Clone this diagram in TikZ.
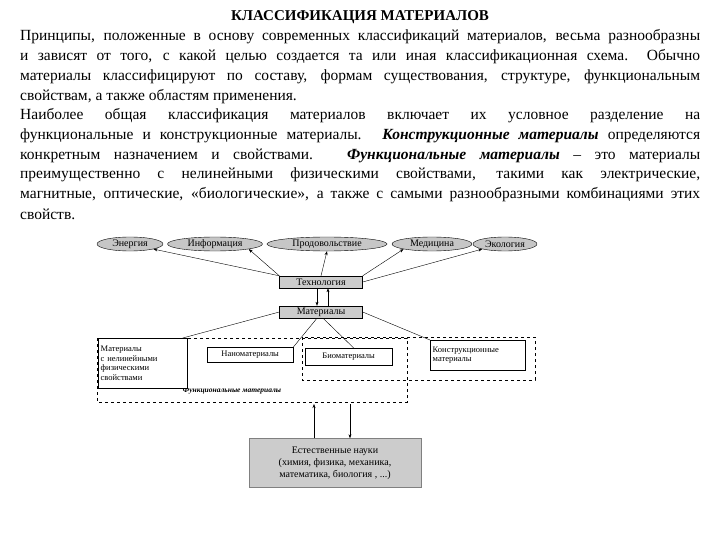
\documentclass[tikz,border=0pt]{standalone}
\usepackage{fontspec}
\setmainfont{Liberation Serif}
\usetikzlibrary{shapes.geometric,arrows.meta}
\begin{document}
\begin{tikzpicture}[x=1pt,y=-1pt,
  ell/.style={draw,ellipse,fill=gray!45,inner sep=0pt,font=\fontsize{10}{11}\selectfont},
  gbox/.style={draw,fill=gray!40,inner sep=0pt,font=\fontsize{10}{11}\selectfont},
  wbox/.style={draw,fill=white,inner sep=2pt,font=\fontsize{8.5}{9.5}\selectfont,align=left},
  dbox/.style={draw,dashed,thin},
  arr/.style={-{Stealth[length=4pt,width=3pt]},thin},
  ln/.style={thin},
  txt/.style={anchor=west,inner sep=0pt,font=\fontsize{15.5}{17}\selectfont}]
\useasboundingbox (0,0) rectangle (720,540);
\node[font=\bfseries\fontsize{15}{16}\selectfont] (title) at (360,17) {КЛАССИФИКАЦИЯ МАТЕРИАЛОВ};
\node[txt] (l1) at (20,37) {\makebox[680pt][s]{Принципы, положенные в основу современных классификаций материалов, весьма разнообразны}};
\node[txt] (l2) at (20,57) {\makebox[680pt][s]{и зависят от того, с какой целью создается та или иная классификационная схема.\ \ Обычно}};
\node[txt] (l3) at (20,77) {\makebox[680pt][s]{материалы классифицируют по составу, формам существования, структуре, функциональным}};
\node[txt] (l4) at (20,97) {свойствам, а также областям применения.};
\node[txt] (l5) at (20,116) {\makebox[680pt][s]{Наиболее общая классификация материалов включает их условное разделение на}};
\node[txt] (l6) at (20,136) {\makebox[680pt][s]{функциональные и конструкционные материалы. \textbf{\textit{Конструкционные материалы}} определяются}};
\node[txt] (l7) at (20,156) {\makebox[680pt][s]{конкретным назначением и свойствами. \textbf{\textit{Функциональные материалы}} – это материалы}};
\node[txt] (l8) at (20,175) {\makebox[680pt][s]{преимущественно с нелинейными физическими свойствами, такими как электрические,}};
\node[txt] (l9) at (20,195) {\makebox[680pt][s]{магнитные, оптические, «биологические», а также с самыми разнообразными комбинациями этих}};
\node[txt] (l10) at (20,214) {свойств.};

% diagram
\draw[dbox] (97,338) rectangle (407,402);
\draw[dbox] (302,337) rectangle (535,380);
\node[font=\bfseries\itshape\fontsize{7.5}{8}\selectfont] (fm) at (232,391) {Функциональные материалы};

\node[ell,minimum width=66pt,minimum height=14pt] (e1) at (130,244) {Энергия};
\node[ell,minimum width=95pt,minimum height=14pt] (e2) at (215,244) {Информация};
\node[ell,minimum width=120pt,minimum height=14pt] (e3) at (327,244) {Продовольствие};
\node[ell,minimum width=80pt,minimum height=14pt] (e4) at (432,244) {Медицина};
\node[ell,minimum width=64pt,minimum height=14pt] (e5) at (505,244) {Экология};

\node[gbox,minimum width=83pt,minimum height=12pt] (tech) at (321,282) {Технология};
\node[gbox,minimum width=83pt,minimum height=12pt] (mat) at (321,312) {Материалы};

\draw[arr] (tech.north west) -- (e1.south east);
\draw[arr] (tech.north west) -- (e2.south east);
\draw[arr] (tech.north) -- (e3.south);
\draw[arr] (tech.north east) -- (e4.south west);
\draw[arr] (tech.east) -- (e5.south west);
\draw[arr] ([xshift=-4pt]tech.south) -- ([xshift=-4pt]mat.north);
\draw[arr] ([xshift=7pt]mat.north) -- ([xshift=7pt]tech.south);

\node[wbox,minimum width=89pt,minimum height=50pt,anchor=north west,text width=84pt] (nl) at (98,338) {Материалы\\с нелинейными\\физическими\\свойствами};
\node[wbox,minimum width=86pt,minimum height=15pt,anchor=north west] (nano) at (207,347) {Наноматериалы};
\node[wbox,minimum width=87pt,minimum height=17pt,anchor=north west] (bio) at (305,348) {Биоматериалы};
\node[wbox,minimum width=95pt,minimum height=30pt,anchor=north west,text width=90pt] (kon) at (430,340) {Конструкционные\\материалы};

\draw[ln] (mat.west) -- ([xshift=40pt]nl.north);
\draw[ln] ([xshift=-4pt]mat.south) -- (nano.north east);
\draw[ln] ([xshift=2pt]mat.south) -- ([xshift=5pt]bio.north);
\draw[ln] (mat.east) -- (kon.north west);

\node[draw=gray,fill=gray!40,minimum width=172pt,minimum height=49pt,inner sep=1pt,align=center,font=\fontsize{10}{12}\selectfont] (nat) at (335,463) {Естественные науки\\(химия, физика, механика,\\математика, биология , ...)};
\coordinate (fa) at (314,404);
\coordinate (fb) at (350,404);
\draw[arr] (nat.north -| fa) -- (fa);
\draw[arr] (fb) -- (nat.north -| fb);
\end{tikzpicture}
\end{document}
